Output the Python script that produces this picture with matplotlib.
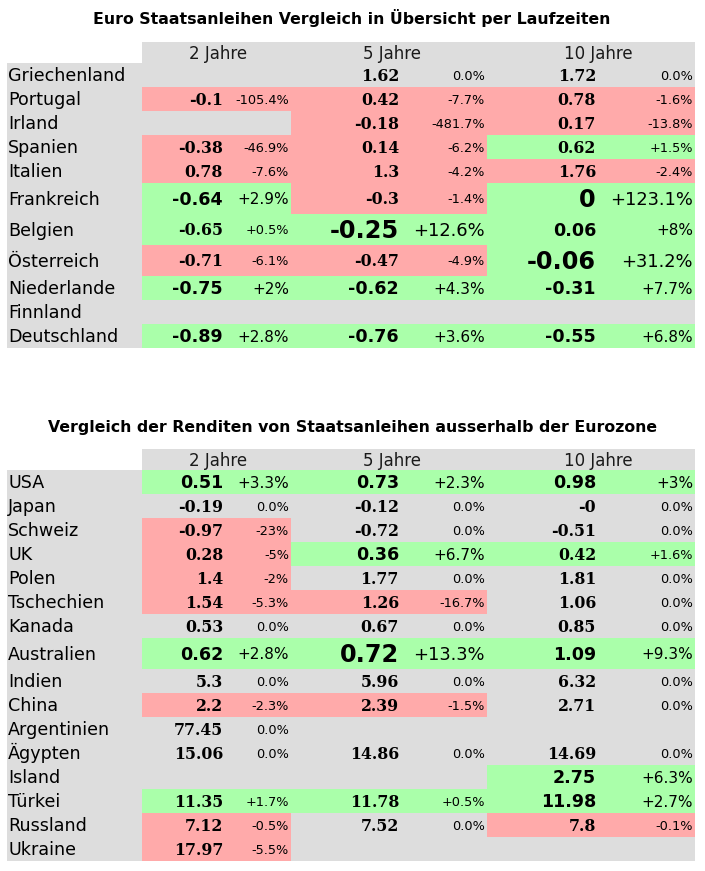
import matplotlib
matplotlib.use("Agg")
import matplotlib.pyplot as plt

# ---------------- data ----------------
periods = ["2 Jahre", "5 Jahre", "10 Jahre"]

euro_title = "Euro Staatsanleihen Vergleich in Übersicht per Laufzeiten"
euro_countries = ["Griechenland", "Portugal", "Irland", "Spanien", "Italien",
                  "Frankreich", "Belgien", "Österreich", "Niederlande",
                  "Finnland", "Deutschland"]
euro_2y = [None, -0.1, None, -0.38, 0.78, -0.64, -0.65, -0.71, -0.75, None, -0.89]
euro_2y_chg = [None, -105.4, None, -46.9, -7.6, 2.9, 0.5, -6.1, 2, None, 2.8]
euro_5y = [1.62, 0.42, -0.18, 0.14, 1.3, -0.3, -0.25, -0.47, -0.62, None, -0.76]
euro_5y_chg = [0.0, -7.7, -481.7, -6.2, -4.2, -1.4, 12.6, -4.9, 4.3, None, 3.6]
euro_10y = [1.72, 0.78, 0.17, 0.62, 1.76, 0, 0.06, -0.06, -0.31, None, -0.55]
euro_10y_chg = [0.0, -1.6, -13.8, 1.5, -2.4, 123.1, 8, 31.2, 7.7, None, 6.8]

world_title = "Vergleich der Renditen von Staatsanleihen ausserhalb der Eurozone"
world_countries = ["USA", "Japan", "Schweiz", "UK", "Polen", "Tschechien",
                   "Kanada", "Australien", "Indien", "China", "Argentinien",
                   "Ägypten", "Island", "Türkei", "Russland", "Ukraine"]
world_2y = [0.51, -0.19, -0.97, 0.28, 1.4, 1.54, 0.53, 0.62, 5.3, 2.2, 77.45,
            15.06, None, 11.35, 7.12, 17.97]
world_2y_chg = [3.3, 0, -23, -5, -2, -5.3, 0, 2.8, 0, -2.3, 0, 0, None, 1.7,
                -0.5, -5.5]
world_5y = [0.73, -0.12, -0.72, 0.36, 1.77, 1.26, 0.67, 0.72, 5.96, 2.39, None,
            14.86, None, 11.78, 7.52, None]
world_5y_chg = [2.3, 0, 0, 6.7, 0, -16.7, 0, 13.3, 0, -1.5, None, 0, None, 0.5,
                0, None]
world_10y = [0.98, -0.0, -0.51, 0.42, 1.81, 1.06, 0.85, 1.09, 6.32, 2.71, None,
             14.69, 2.75, 11.98, 7.8, None]
world_10y_chg = [3, 0, 0, 1.6, 0, 0, 0, 9.3, 0, 0, None, 0, 6.3, 2.7, -0.1, None]

# ---------------- style / layout ----------------
GRAY = "#dddddd"
PINK = "#ffaaaa"
GREEN = "#aaffaa"
DPI = 100
PX = DPI / 72.0  # px per point

# (cell left, cell right, value right edge, pct right edge, header centre)
GROUPS = [(142, 291, 223, 289, 218),
          (291, 487, 399, 485, 392),
          (487, 695, 596, 693, 598)]
LABEL_LEFT = 7
LABEL_X = 8
HEADER_H = 21
ROW_H = 24
TALL_H = 31

LABEL_SIZE = 12.6
HEADER_SIZE = 12.0
TITLE_SIZE = 11.35


def fmt_val(v):
    return f"{v:g}"


def fmt_chg(c):
    return "0.0%" if c == 0 else f"{c:+g}%"


def cell_style(c):
    if c is not None and c >= 10:
        return "DejaVu Sans", 17.3, 12.9
    if c is not None and c >= 2:
        return "DejaVu Sans", 12.6, 11.0
    return "DejaVu Serif", 11.3, 9.3


def cap_text(ax, x, yc, s, size, ha, **kw):
    # place text so that its cap height is centred on yc
    cap = 0.729 * size * PX
    ax.text(x, yc + cap / 2.0, s, ha=ha, va="baseline", fontsize=size, **kw)


def draw_table(ax, title, title_y, header_top, countries, cols):
    ax.text(352, title_y, title, ha="center", va="center",
            fontsize=TITLE_SIZE, fontweight="bold", color="#000000",
            family="DejaVu Sans")
    left0, right_end = GROUPS[0][0], GROUPS[-1][1]
    hc = header_top + HEADER_H / 2.0
    ax.barh(hc, right_end - left0, left=left0, height=HEADER_H,
            color=GRAY, linewidth=0)
    for (l, r, vr, pr, hx), name in zip(GROUPS, periods):
        cap_text(ax, hx, hc, name, HEADER_SIZE, "center", color="#1a1a1a",
                 family="DejaVu Sans")
    y = header_top + HEADER_H
    for i, country in enumerate(countries):
        chgs = [cols[g][1][i] for g in range(3)]
        tall = any(c is not None and c >= 10 for c in chgs)
        h = TALL_H if tall else ROW_H
        yc = y + h / 2.0
        ax.barh(yc, left0 - LABEL_LEFT, left=LABEL_LEFT, height=h,
                color=GRAY, linewidth=0)
        cap_text(ax, LABEL_X, yc, country, LABEL_SIZE, "left",
                 color="#000000", family="DejaVu Sans")
        for g, (l, r, vr, pr, hx) in enumerate(GROUPS):
            v = cols[g][0][i]
            c = cols[g][1][i]
            if c is None or c == 0:
                col = GRAY
            elif c > 0:
                col = GREEN
            else:
                col = PINK
            ax.barh(yc, r - l, left=l, height=h, color=col, linewidth=0)
            if v is not None:
                fam, vs, cs = cell_style(c)
                cap_text(ax, vr, yc, fmt_val(v), vs, "right",
                         fontweight="bold", family=fam, color="#000000")
                cap_text(ax, pr, yc, fmt_chg(c), cs, "right",
                         family="DejaVu Sans", color="#000000")
        y += h


fig = plt.figure(figsize=(705 / DPI, 871 / DPI), dpi=DPI)
ax = fig.add_axes([0, 0, 1, 1])
ax.set_xlim(0, 705)
ax.set_ylim(871, 0)
ax.axis("off")

draw_table(ax, euro_title, 18, 42, euro_countries,
           [(euro_2y, euro_2y_chg), (euro_5y, euro_5y_chg),
            (euro_10y, euro_10y_chg)])
draw_table(ax, world_title, 427, 449, world_countries,
           [(world_2y, world_2y_chg), (world_5y, world_5y_chg),
            (world_10y, world_10y_chg)])

fig.savefig("out.png", dpi=DPI, facecolor="white")
